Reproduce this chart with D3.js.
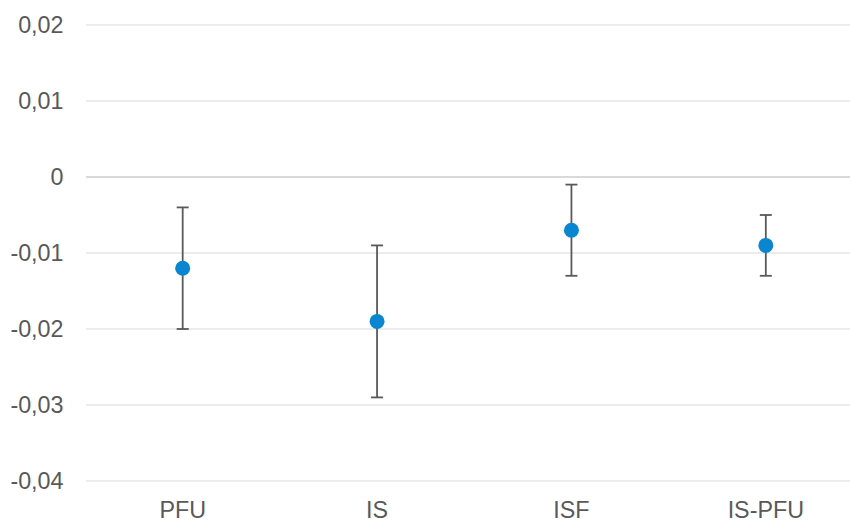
<!DOCTYPE html>
<html><head><meta charset="utf-8">
<script src="https://cdn.jsdelivr.net/npm/d3@7"></script>
<style>body{margin:0;background:#fff}svg{display:block}text{font-family:"Liberation Sans",Arial,sans-serif}</style>
</head><body><svg id="c" width="850" height="521"></svg>
<script>
const categories = ["PFU", "IS", "ISF", "IS-PFU"];
const values = [-0.012, -0.019, -0.007, -0.009];
const lower = [-0.020, -0.029, -0.013, -0.013];
const upper = [-0.004, -0.009, -0.001, -0.005];
const yTicks = [0.02, 0.01, 0, -0.01, -0.02, -0.03, -0.04];
const yTickLabels = ["0,02", "0,01", "0", "-0,01", "-0,02", "-0,03", "-0,04"];

const svg = d3.select("#c");
const x = d3.scaleBand().domain(categories).range([85.5, 863]);
const y = d3.scaleLinear().domain([-0.04, 0.02]).range([481, 25]);

// gridlines
svg.append("g").selectAll("line").data(yTicks).join("line")
  .attr("x1", 86).attr("x2", 863)
  .attr("y1", d => y(d)).attr("y2", d => y(d))
  .attr("stroke", "#d9d9d9")
  .attr("stroke-width", d => d === 0 ? 2.2 : 1.2);

// y labels
svg.append("g").selectAll("text").data(yTicks).join("text")
  .attr("x", 63.5).attr("y", d => y(d)).attr("dy", "0.36em")
  .attr("text-anchor", "end").attr("fill", "#595959")
  .attr("font-size", 23.3)
  .text((d, i) => yTickLabels[i]);

// x labels
svg.append("g").selectAll("text").data(categories).join("text")
  .attr("x", d => x(d) + x.bandwidth() / 2).attr("y", 517.5)
  .attr("text-anchor", "middle").attr("fill", "#595959")
  .attr("font-size", 23.3)
  .text(d => d);

const cx = i => x(categories[i]) + x.bandwidth() / 2;
const eb = svg.append("g").attr("stroke", "#595959").attr("stroke-width", 1.8);
categories.forEach((c, i) => {
  eb.append("line").attr("x1", cx(i)).attr("x2", cx(i)).attr("y1", y(upper[i])).attr("y2", y(lower[i]));
  eb.append("line").attr("x1", cx(i) - 6).attr("x2", cx(i) + 6).attr("y1", y(upper[i])).attr("y2", y(upper[i]));
  eb.append("line").attr("x1", cx(i) - 6).attr("x2", cx(i) + 6).attr("y1", y(lower[i])).attr("y2", y(lower[i]));
});

svg.append("g").selectAll("circle").data(values).join("circle")
  .attr("cx", (d, i) => cx(i)).attr("cy", d => y(d)).attr("r", 7.5)
  .attr("fill", "#0a86d0");
</script></body></html>
